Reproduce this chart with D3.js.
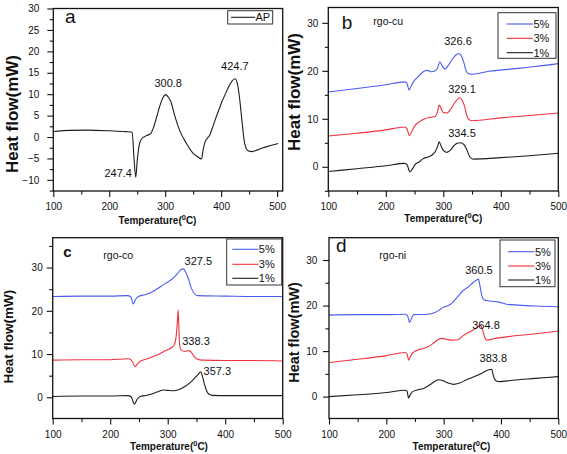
<!DOCTYPE html>
<html><head><meta charset="utf-8">
<script src="https://cdn.jsdelivr.net/npm/d3@7"></script>
<style>
body{margin:0;background:#fff;}
svg{display:block;font-family:"Liberation Sans",Arial,Helvetica,sans-serif;}
</style></head><body>
<svg id="chart" width="567" height="454"></svg>
<script>
// ---------------- DATA ----------------
const xTickValues = [100, 200, 300, 400, 500];
const xMinorValues = [150, 250, 350, 450];

const aYTicks = [-10, -5, 0, 5, 10, 15, 20, 25, 30];
const aYMinor = [-12.5, -7.5, -2.5, 2.5, 7.5, 12.5, 17.5, 22.5, 27.5];
const bcdYTicks = [0, 10, 20, 30];
const bYMinor = [-5, 5, 15, 25];
const cYMinor = [5, 15, 25, 35];
const dYMinor = [5, 15, 25];

const seriesNames = ["5%", "3%", "1%"];

// panel a: AP
const apT = [100,130,160,200,230,241,244,247.4,250,254,258,262,268,274,279,285,291,296,301.5,305,310,317,326,338,350,358,365,368,372,376,379,384,389,395,401,407,413,419,424.7,429,433,437,442,448,455,465,475,488,502];
const apV = [1.3,1.55,1.6,1.45,1.25,1.1,-4.5,-9.4,-5.5,-1.6,-0.4,0,0.4,0.8,2.2,4.8,7.5,9.2,9.9,9.4,8.3,5.0,1.5,-1.5,-3.8,-4.6,-5.1,-2.8,-0.9,-0.2,0.3,2.0,3.9,6.0,8.1,9.9,11.6,13.0,13.6,12.5,9.0,4.0,-1.5,-3.2,-3.4,-3.0,-2.5,-2.0,-1.5];
const apPeaks = ["247.4", "300.8", "424.7"];

// panel b: rgo-cu
const cu5T = [100,150,200,233,237,240.5,244,248,256,265,272,279,286,290,294,298,303,309,315,321,327,332,336,340,344,350,380,420,460,500];
const cu5V = [15.6,16.3,17.1,17.7,17.3,16.0,16.8,17.7,18.7,19.8,20.1,19.8,20.0,20.6,21.9,21.0,20.4,21.2,22.3,23.2,23.6,23.0,21.6,19.9,19.4,19.3,19.9,20.4,20.9,21.5];
const cu3T = [100,150,200,233,237,241,245,249,259,268,277,286,290,293,296,300,306,313,320,326,329.1,333,337,341,345,350,400,450,500];
const cu3V = [6.4,7.0,7.7,8.3,7.9,6.5,7.3,8.3,9.4,10.0,10.3,10.5,11.5,12.85,12.2,11.3,11.2,12.0,13.4,14.2,14.4,13.8,12.6,10.6,9.8,9.6,10.2,10.7,11.2];
const cu1T = [100,150,200,233,237,242,246,251,258,265,272,280,286,290,292.7,296,300,306,312,318,324,330,336,341,346,352,400,450,500];
const cu1V = [-1.0,-0.4,0.2,0.7,0.4,-1.05,-0.5,0.5,1.0,1.7,2.0,2.4,3.2,4.2,5.2,4.4,3.4,3.0,3.4,4.3,4.9,5.0,4.6,3.5,2.1,1.6,1.9,2.3,2.8];
const cuPeaks = ["326.6", "329.1", "334.5"];

// panel c: rgo-co
const co5T = [100,150,200,230,236,240,244,249,260,270,282,292,302,310,317,322,327.5,331,336,341,346,352,400,450,500];
const co5V = [23.3,23.4,23.4,23.5,23.2,21.6,22.6,23.3,23.7,24.2,25.1,26.0,26.8,27.6,28.6,29.4,29.7,29.0,27.4,25.3,24.0,23.5,23.4,23.3,23.3];
const co3T = [100,150,200,232,238,243,248,253,265,280,292,300,306,312,315,317,318.3,319.5,321,324,330,336,340,345,352,360,400,450,500];
const co3V = [8.6,8.7,8.7,8.9,8.4,7.1,7.8,8.4,8.9,9.7,10.5,11.0,11.4,12.3,14.5,17.8,20.2,16.0,11.8,10.9,10.6,10.8,10.6,9.6,8.8,8.6,8.5,8.5,8.4];
const co1T = [100,150,200,232,237,242,247,252,262,275,285,292,300,310,320,330,340,348,353,357.3,360,364,368,372,378,400,450,500];
const co1V = [0.2,0.3,0.3,0.4,0.0,-1.6,-0.4,0.2,0.4,0.9,1.4,1.7,1.6,1.5,1.8,2.5,3.5,4.6,5.3,5.9,5.0,3.0,1.4,0.7,0.45,0.4,0.4,0.4];
const coPeaks = ["327.5", "338.3", "357.3"];

// panel d: rgo-ni
const ni5T = [100,150,200,233,237,240.5,244,248,270,285,292,299,306,312,318,325,334,343,350,356,360.5,363,366,370,380,395,410,430,460,500];
const ni5V = [17.9,18.0,18.0,18.1,17.8,16.3,17.2,18.0,18.1,18.5,19.0,19.6,19.9,20.3,21.0,22.0,23.3,24.1,24.9,25.5,25.8,24.6,22.5,21.3,21.0,20.8,20.3,20.1,19.9,19.75];
const ni3T = [100,150,200,233,236,239,242,246,259,270,282,290,296,305,315,325,334,345,352,358,364.8,368,372,376,387,420,460,500];
const ni3V = [7.5,8.2,9.0,9.7,9.4,8.0,8.8,9.6,10.4,10.8,11.7,12.5,12.8,12.6,12.4,12.5,13.4,14.2,14.7,15.2,15.6,14.6,12.9,12.4,12.7,13.3,13.8,14.4];
const ni1T = [100,150,200,233,236,239,242,246,255,265,276,285,291,299,308,317,328,340,352,363,372,379,383.8,386,389,393,398,420,460,500];
const ni1V = [0.0,0.4,0.9,1.4,1.2,-0.3,0.5,1.1,1.5,1.8,2.6,3.4,3.7,3.5,3.0,2.7,3.0,3.7,4.3,4.9,5.5,5.9,6.0,5.0,3.8,3.4,3.3,3.6,4.0,4.4];
const niPeaks = ["360.5", "364.8", "383.8"];

// ---------------- STYLE / LAYOUT ----------------
const COL = {"5%": "#4a5cf0", "3%": "#f0323f", "1%": "#1c1c1c", "AP": "#1c1c1c"};

const panels = [
  { L: 53.3, R: 282.7, T: 8.5, B: 191, xDom: [100, 510], yDom: [-12.6, 30],
    yTicks: aYTicks, yMinor: aYMinor, yPad: 8,
    series: [{name: "AP", t: apT, v: apV}],
    legend: {x: 227.7, y: 10.7, w: 45, h: 13.3, rows: [17.3], lx: [231, 255], tx: 255.5},
    letter: {s: "a", x: 65, y: 23, size: 19, weight: "normal"},
    sub: null,
    ytitle: {x: 17.5, y: 114, size: 17},
    xtitle: {x: 157.5, y: 224},
    peaks: apPeaks, peakPos: [[216, -9.27], [305.4, 11.7], [424.5, 15.6]] },
  { L: 328.3, R: 558.3, T: 7.5, B: 191, xDom: [100, 500], yDom: [-5.05, 33.2],
    yTicks: bcdYTicks, yMinor: bYMinor, yPad: 4,
    series: [{name: "5%", t: cu5T, v: cu5V}, {name: "3%", t: cu3T, v: cu3V}, {name: "1%", t: cu1T, v: cu1V}],
    legend: {x: 498, y: 12.7, w: 58, h: 45.6, rows: [24, 38.3, 52.7], lx: [506.7, 533], tx: 533.5},
    letter: {s: "b", x: 341.7, y: 29, size: 19, weight: "normal"},
    sub: {s: "rgo-cu", x: 373.3, y: 25.3},
    ytitle: {x: 300, y: 92, size: 17},
    xtitle: {x: 443.3, y: 222},
    peaks: cuPeaks, peakPos: [[325.6, 25.4], [332.5, 15.3], [332.5, 6.2]] },
  { L: 52.7, R: 282.7, T: 237.7, B: 418.5, xDom: [100, 500], yDom: [-4.9, 36.9],
    yTicks: bcdYTicks, yMinor: cYMinor, yPad: 4,
    series: [{name: "5%", t: co5T, v: co5V}, {name: "3%", t: co3T, v: co3V}, {name: "1%", t: co1T, v: co1V}],
    legend: {x: 226.7, y: 239, w: 55, h: 46, rows: [249.3, 264.3, 278.3], lx: [232.3, 258.3], tx: 258.8},
    letter: {s: "c", x: 63.3, y: 256.7, size: 15, weight: "bold"},
    sub: {s: "rgo-co", x: 103.3, y: 258.5},
    ytitle: {x: 13, y: 336.7, size: 13.5},
    xtitle: {x: 169, y: 450},
    peaks: coPeaks, peakPos: [[353.2, 30.6], [349.2, 12.1], [386.3, 5.2]] },
  { L: 329, R: 558.3, T: 237.7, B: 418.5, xDom: [100, 500], yDom: [-4.8, 34.9],
    yTicks: bcdYTicks, yMinor: dYMinor, yPad: 5.7,
    series: [{name: "5%", t: ni5T, v: ni5V}, {name: "3%", t: ni3T, v: ni3V}, {name: "1%", t: ni1T, v: ni1V}],
    legend: {x: 500, y: 240, w: 55, h: 46.7, rows: [251.7, 266, 280], lx: [508, 534.5], tx: 535},
    letter: {s: "d", x: 336, y: 252.3, size: 19, weight: "normal"},
    sub: {s: "rgo-ni", x: 379.3, y: 259},
    ytitle: {x: 299.4, y: 332.5, size: 14.5},
    xtitle: {x: 451.5, y: 450},
    peaks: niPeaks, peakPos: [[361.6, 26.9], [373.9, 14.9], [386.6, 7.55]] }
];

// ---------------- DRAW ----------------
const svg = d3.select("#chart");
svg.append("rect").attr("width", 567).attr("height", 454).attr("fill", "#fff");

panels.forEach((p, i) => {
  const g = svg.append("g");
  const x = d3.scaleLinear().domain(p.xDom).range([p.L, p.R]);
  const y = d3.scaleLinear().domain(p.yDom).range([p.B, p.T]);

  const clipId = "clip" + i;
  g.append("clipPath").attr("id", clipId).append("rect")
    .attr("x", p.L).attr("y", p.T).attr("width", p.R - p.L).attr("height", p.B - p.T);

  const line = d3.line().x(d => x(d[0])).y(d => y(d[1])).curve(d3.curveMonotoneX);
  const cg = g.append("g").attr("clip-path", `url(#${clipId})`);
  p.series.forEach(s => {
    cg.append("path").attr("d", line(d3.zip(s.t, s.v)))
      .attr("fill", "none").attr("stroke", COL[s.name]).attr("stroke-width", 1.1)
      .attr("stroke-linejoin", "round");
  });

  // axes
  const xa = g.append("g").attr("transform", `translate(0,${p.B})`)
    .call(d3.axisBottom(x).tickValues(xTickValues).tickSize(6).tickPadding(6).tickSizeOuter(0).tickFormat(d3.format("d")));
  const xm = g.append("g").attr("transform", `translate(0,${p.B})`)
    .call(d3.axisBottom(x).tickValues(xMinorValues).tickSize(3.5).tickFormat(""));
  const ya = g.append("g").attr("transform", `translate(${p.L},0)`)
    .call(d3.axisLeft(y).tickValues(p.yTicks).tickSize(6).tickPadding(p.yPad).tickSizeOuter(0).tickFormat(d3.format("d")));
  const ym = g.append("g").attr("transform", `translate(${p.L},0)`)
    .call(d3.axisLeft(y).tickValues(p.yMinor).tickSize(3.5).tickFormat(""));
  [xa, xm, ya, ym].forEach(a => {
    a.select(".domain").remove();
    a.selectAll("line").attr("stroke", "#111").attr("stroke-width", 1.1);
    a.selectAll("text").attr("font-size", 10).attr("fill", "#111")
      .attr("font-family", '"Liberation Sans",Arial,sans-serif');
  });

  // frame
  g.append("rect").attr("x", p.L).attr("y", p.T).attr("width", p.R - p.L).attr("height", p.B - p.T)
    .attr("fill", "none").attr("stroke", "#111").attr("stroke-width", 1.3);

  // legend
  const lg = p.legend;
  g.append("rect").attr("x", lg.x).attr("y", lg.y).attr("width", lg.w).attr("height", lg.h)
    .attr("fill", "#fff").attr("stroke", "#333").attr("stroke-width", 1);
  p.series.forEach((s, k) => {
    g.append("line").attr("x1", lg.lx[0]).attr("x2", lg.lx[1]).attr("y1", lg.rows[k]).attr("y2", lg.rows[k])
      .attr("stroke", COL[s.name]).attr("stroke-width", 1.1);
    g.append("text").attr("x", lg.tx).attr("y", lg.rows[k] + 4).attr("font-size", 11).attr("fill", "#111").text(s.name);
  });

  // panel letter and subtitle
  g.append("text").attr("x", p.letter.x).attr("y", p.letter.y).attr("font-size", p.letter.size)
    .attr("font-weight", p.letter.weight).attr("fill", "#111").text(p.letter.s);
  if (p.sub) g.append("text").attr("x", p.sub.x).attr("y", p.sub.y).attr("font-size", 10.5).attr("fill", "#111").text(p.sub.s);

  // peak labels
  p.peaks.forEach((lab, k) => {
    g.append("text").attr("x", x(p.peakPos[k][0])).attr("y", y(p.peakPos[k][1]))
      .attr("text-anchor", "middle").attr("font-size", 11).attr("fill", "#111").text(lab);
  });

  // axis titles
  g.append("text").attr("transform", `translate(${p.ytitle.x},${p.ytitle.y}) rotate(-90)`)
    .attr("text-anchor", "middle").attr("font-size", p.ytitle.size).attr("font-weight", "bold")
    .attr("fill", "#111").text("Heat flow(mW)");
  const xt = g.append("text").attr("x", p.xtitle.x).attr("y", p.xtitle.y)
    .attr("text-anchor", "middle").attr("font-size", 10).attr("font-weight", "bold").attr("fill", "#111");
  xt.append("tspan").text("Temperature(");
  xt.append("tspan").attr("dy", -4).attr("font-size", 7.5).text("0");
  xt.append("tspan").attr("dy", 4).text("C)");
});
</script>
</body></html>
